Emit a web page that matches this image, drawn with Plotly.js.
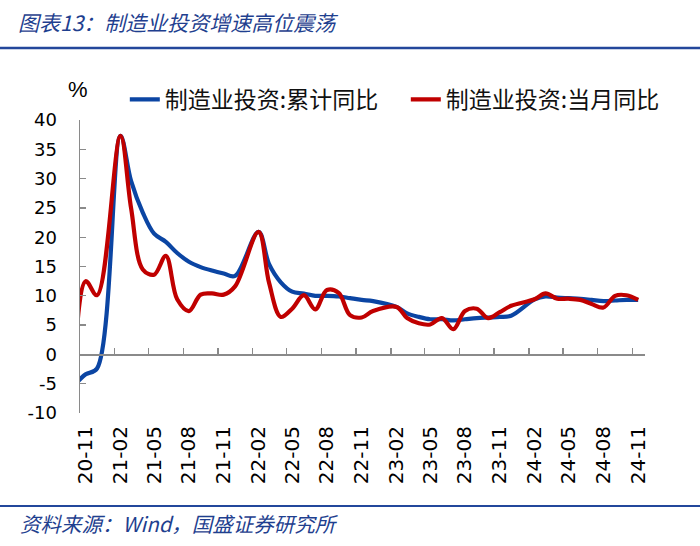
<!DOCTYPE html>
<html>
<head>
<meta charset="utf-8">
<script src="https://cdn.plot.ly/plotly-3.0.1.min.js"></script>
<style>html,body{margin:0;padding:0;background:#fff;}#chart{width:700px;height:546px;}</style>
</head>
<body>
<div id="chart"></div>
<script>
// Months (Jan values are not published separately: Jan-Feb combined)
const months = ['2020-10','2020-11','2020-12','2021-02','2021-03','2021-04','2021-05','2021-06','2021-07','2021-08','2021-09','2021-10','2021-11','2021-12',
  '2022-02','2022-03','2022-04','2022-05','2022-06','2022-07','2022-08','2022-09','2022-10','2022-11','2022-12',
  '2023-02','2023-03','2023-04','2023-05','2023-06','2023-07','2023-08','2023-09','2023-10','2023-11','2023-12',
  '2024-02','2024-03','2024-04','2024-05','2024-06','2024-07','2024-08','2024-09','2024-10','2024-11'];
// 制造业投资:累计同比 (%)
const cumulativeYoY = [-5.3,-3.4,-2.4,37.3,29.6,24.2,20.6,19.2,17.3,15.8,14.9,14.3,13.8,13.4,
  20.9,15.4,12.3,10.7,10.4,10.0,10.0,9.9,9.6,9.3,9.1,
  8.1,7.0,6.4,6.0,6.0,5.8,6.0,6.2,6.3,6.4,6.6,
  9.4,9.9,9.7,9.6,9.5,9.3,9.1,9.2,9.3,9.3];
// 制造业投资:当月同比 (%)
const monthlyYoY = [-5.0,12.5,10.1,37.3,25.0,14.5,13.6,16.8,9.4,7.4,10.2,10.4,10.2,11.6,
  20.9,12.2,6.4,7.8,10.1,7.7,11.0,10.5,6.7,6.3,7.4,
  8.1,6.2,5.3,5.1,6.2,4.3,7.4,7.8,6.2,7.2,8.3,
  9.4,10.4,9.5,9.5,9.3,8.6,8.0,10.0,10.1,9.3];
// Tick labels (every 3 months)
const tickMonths = ['2020-11','2021-02','2021-05','2021-08','2021-11','2022-02','2022-05','2022-08','2022-11','2023-02','2023-05','2023-08','2023-11','2024-02','2024-05','2024-08','2024-11'];
const tickLabels = tickMonths.map(m => m.slice(2));
const yTickVals = [-10,-5,0,5,10,15,20,25,30,35,40];
const yTickLabels = ['-10','-5','0','5','10','15','20','25','30','35','40'];
const seriesNames = ['制造业投资:累计同比','制造业投资:当月同比'];

const xDates = months.map(m => m + '-16');
const tickVals = tickMonths.map(m => m + '-01');
const labelVals = tickMonths.map(m => m + '-16');
const xRange = ['2020-11-01', '2024-12-04'];
const axisGray = '#8a8a8a';

const traces = [
  {x: xDates, y: cumulativeYoY, name: seriesNames[0], type: 'scatter', mode: 'lines',
   line: {color: '#0B45A3', width: 4.2, shape: 'spline', smoothing: 1}, xaxis: 'x', yaxis: 'y'},
  {x: xDates, y: monthlyYoY, name: seriesNames[1], type: 'scatter', mode: 'lines',
   line: {color: '#C00000', width: 4.2, shape: 'spline', smoothing: 1}, xaxis: 'x2', yaxis: 'y'}
];

const layout = {
  width: 700, height: 546,
  margin: {l: 80, r: 55, t: 120, b: 133},
  paper_bgcolor: '#fff', plot_bgcolor: '#fff',
  showlegend: true,
  title: {
    text: '<i>图表13：制造业投资增速高位震荡</i>',
    x: 18/700, xanchor: 'left', xref: 'container',
    y: 1 - 24/546, yanchor: 'middle', yref: 'container',
    font: {family: '"Noto Sans CJK SC", sans-serif', size: 21, color: '#1F3F8F'}
  },
  legend: {
    orientation: 'h', x: 1.074, xanchor: 'right', y: 1.07, yanchor: 'middle',
    entrywidth: 236, entrywidthmode: 'pixels',
    font: {family: '"Noto Sans CJK SC", sans-serif', size: 23, color: '#111'},
    bgcolor: 'rgba(0,0,0,0)'
  },
  xaxis: {
    type: 'date', range: xRange, tickmode: 'array', tickvals: labelVals, ticktext: tickLabels,
    tickangle: -90, ticks: '', showline: false, showgrid: false, zeroline: false,
    ticklabelstandoff: 8,
    tickfont: {family: '"DejaVu Sans", sans-serif', size: 20, color: '#000'}
  },
  xaxis2: {
    type: 'date', range: xRange, overlaying: 'x', anchor: 'free', position: 0.2,
    tickmode: 'array', tickvals: tickVals, showticklabels: false,
    ticks: 'inside', ticklen: 6, tickwidth: 1.3, tickcolor: axisGray,
    showline: true, linecolor: axisGray, linewidth: 1.5, showgrid: false, zeroline: false
  },
  yaxis: {
    range: [-10, 40], tickmode: 'array', tickvals: yTickVals, ticktext: yTickLabels,
    showgrid: false, zeroline: false,
    showline: true, linecolor: axisGray, linewidth: 1.5,
    ticks: 'inside', ticklen: 6, tickwidth: 1.3, tickcolor: axisGray,
    ticklabelstandoff: 18,
    tickfont: {family: '"DejaVu Sans", sans-serif', size: 18, color: '#000'}
  },
  shapes: [
    {type: 'line', xref: 'paper', yref: 'paper', x0: -80/565, x1: 620/565, y0: (413-48)/293, y1: (413-48)/293,
     line: {color: '#23479B', width: 2.5}},
    {type: 'line', xref: 'paper', yref: 'paper', x0: -80/565, x1: 620/565, y0: (413-506)/293, y1: (413-506)/293,
     line: {color: '#23479B', width: 2}}
  ],
  annotations: [
    {text: '%', xref: 'paper', yref: 'paper', x: -2/565, y: (413-89)/293, xanchor: 'center', yanchor: 'middle',
     showarrow: false, font: {family: '"Liberation Sans", Arial, sans-serif', size: 22, color: '#000'}},
    {text: '<i>资料来源：Wind，国盛证券研究所</i>', xref: 'paper', yref: 'paper', x: -62/565, y: (413-523)/293,
     xanchor: 'left', yanchor: 'middle', showarrow: false,
     font: {family: '"Noto Sans CJK SC", sans-serif', size: 20.5, color: '#1F3F8F'}}
  ]
};

Plotly.newPlot('chart', traces, layout, {displayModeBar: false, staticPlot: true});
</script>
</body>
</html>
